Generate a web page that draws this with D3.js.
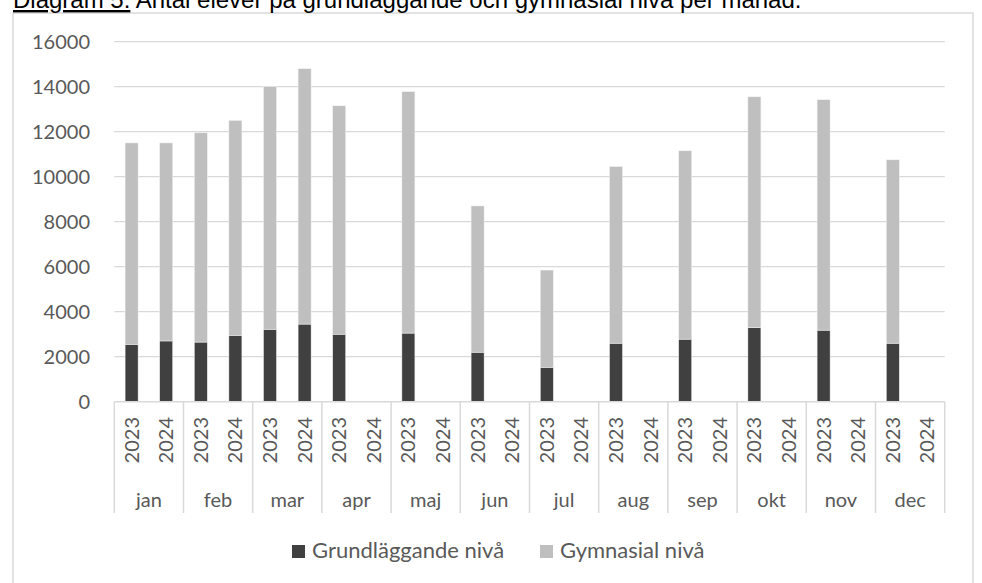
<!DOCTYPE html>
<html>
<head>
<meta charset="utf-8">
<script src="https://cdn.jsdelivr.net/npm/d3@7"></script>
<style>
    body { margin: 0; background: #fff; }
    svg { display: block; }
</style>
</head>
<body>
<svg id="chart" width="982" height="583"></svg>
<script>
const months = ['jan', 'feb', 'mar', 'apr', 'maj', 'jun', 'jul', 'aug', 'sep', 'okt', 'nov', 'dec'];
const years = ['2023', '2024'];
const yTicks = [0, 2000, 4000, 6000, 8000, 10000, 12000, 14000, 16000];

// Grundläggande nivå
const grund2023 = [2550, 2650, 3220, 3000, 3050, 2200, 1530, 2600, 2780, 3290, 3180, 2600];
const grund2024 = [2700, 2950, 3450, null, null, null, null, null, null, null, null, null];
// Gymnasial nivå
const gymn2023 = [8950, 9300, 10780, 10150, 10730, 6500, 4320, 7850, 8370, 10260, 10240, 8150];
const gymn2024 = [8800, 9550, 11350, null, null, null, null, null, null, null, null, null];

const seriesNames = ['Grundläggande nivå', 'Gymnasial nivå'];
const colors = ['#404040', '#bfbfbf'];

const svg = d3.select('#chart');
const textColor = '#595959';
const lineColor = '#d9d9d9';

const plot = { left: 114.3, right: 944.7, top: 41.7, bottom: 401.7 };

// build rows (one per month/year)
let rows = [];
months.forEach((m, i) => {
    rows.push({ month: m, year: '2023', grund: grund2023[i], gymn: gymn2023[i] });
    rows.push({ month: m, year: '2024', grund: grund2024[i], gymn: gymn2024[i] });
});

let stacked = d3.stack()
    .keys(['grund', 'gymn'])
    .value((d, key) => d[key] || 0)(rows);

let x0 = d3.scaleBand()
    .domain(months)
    .range([plot.left, plot.right]);

let x1 = d3.scaleBand()
    .domain(years)
    .range([0, x0.bandwidth()])
    .paddingInner(0.624)
    .paddingOuter(0.312);

let y = d3.scaleLinear()
    .domain([0, 16000])
    .range([plot.bottom, plot.top]);

// chart frame
svg.append('rect')
    .attr('x', 13)
    .attr('y', 13)
    .attr('width', 960)
    .attr('height', 600)
    .attr('fill', 'none')
    .attr('stroke', lineColor)
    .attr('stroke-width', 1.5);

// title
let title = svg.append('text')
    .attr('x', 13)
    .attr('y', 8)
    .attr('font-family', 'Liberation Sans, Arial, sans-serif')
    .attr('font-size', 24)
    .attr('fill', '#000');
title.append('tspan')
    .attr('text-decoration', 'underline')
    .text('Diagram 5.');
title.append('tspan')
    .text(' Antal elever på grundläggande och gymnasial nivå per månad.');

// gridlines
svg.append('g')
    .selectAll('line')
    .data(yTicks.filter(d => d > 0))
    .join('line')
    .attr('x1', plot.left)
    .attr('x2', plot.right)
    .attr('y1', d => y(d))
    .attr('y2', d => y(d))
    .attr('stroke', lineColor)
    .attr('stroke-width', 1.3);

// y labels
svg.append('g')
    .selectAll('text')
    .data(yTicks)
    .join('text')
    .attr('x', 90)
    .attr('y', d => y(d))
    .attr('dy', '0.36em')
    .attr('text-anchor', 'end')
    .attr('font-family', 'Lato, sans-serif')
    .attr('font-size', 20)
    .attr('fill', textColor)
    .text(d => d);

// bars
svg.append('g')
    .selectAll('g')
    .data(stacked)
    .join('g')
    .attr('fill', (d, i) => colors[i])
    .selectAll('rect')
    .data(d => d.filter(p => p[1] > p[0]))
    .join('rect')
    .attr('x', d => x0(d.data.month) + x1(d.data.year))
    .attr('width', x1.bandwidth())
    .attr('y', d => y(d[1]))
    .attr('height', d => y(d[0]) - y(d[1]))
    .attr('stroke', '#f2f2f2')
    .attr('stroke-width', 0.5);

// category axis
svg.append('line')
    .attr('x1', plot.left)
    .attr('x2', plot.right)
    .attr('y1', plot.bottom)
    .attr('y2', plot.bottom)
    .attr('stroke', lineColor)
    .attr('stroke-width', 1.5);

svg.append('g')
    .selectAll('line')
    .data(months.concat(['end']))
    .join('line')
    .attr('x1', (d, i) => plot.left + i * x0.step())
    .attr('x2', (d, i) => plot.left + i * x0.step())
    .attr('y1', plot.bottom)
    .attr('y2', 513)
    .attr('stroke', lineColor)
    .attr('stroke-width', 1.5);

// year labels (rotated)
svg.append('g')
    .selectAll('text')
    .data(rows)
    .join('text')
    .attr('transform', d => `translate(${x0(d.month) + x1(d.year) + x1.bandwidth() / 2 + 7},417) rotate(-90)`)
    .attr('text-anchor', 'end')
    .attr('font-family', 'Lato, sans-serif')
    .attr('font-size', 20)
    .attr('fill', textColor)
    .text(d => d.year);

// month labels
svg.append('g')
    .selectAll('text')
    .data(months)
    .join('text')
    .attr('x', d => x0(d) + x0.bandwidth() / 2)
    .attr('y', 507)
    .attr('text-anchor', 'middle')
    .attr('font-family', 'Lato, sans-serif')
    .attr('font-size', 20)
    .attr('fill', textColor)
    .text(d => d);

// legend
let legendX = [292, 540];
let legend = svg.append('g')
    .selectAll('g')
    .data(seriesNames)
    .join('g')
    .attr('transform', (d, i) => `translate(${legendX[i]},545)`);

legend.append('rect')
    .attr('width', 13)
    .attr('height', 13)
    .attr('fill', (d, i) => colors[i]);

legend.append('text')
    .attr('x', 20)
    .attr('y', 13)
    .attr('font-family', 'Lato, sans-serif')
    .attr('font-size', 22)
    .attr('fill', textColor)
    .text(d => d);
</script>
</body>
</html>
